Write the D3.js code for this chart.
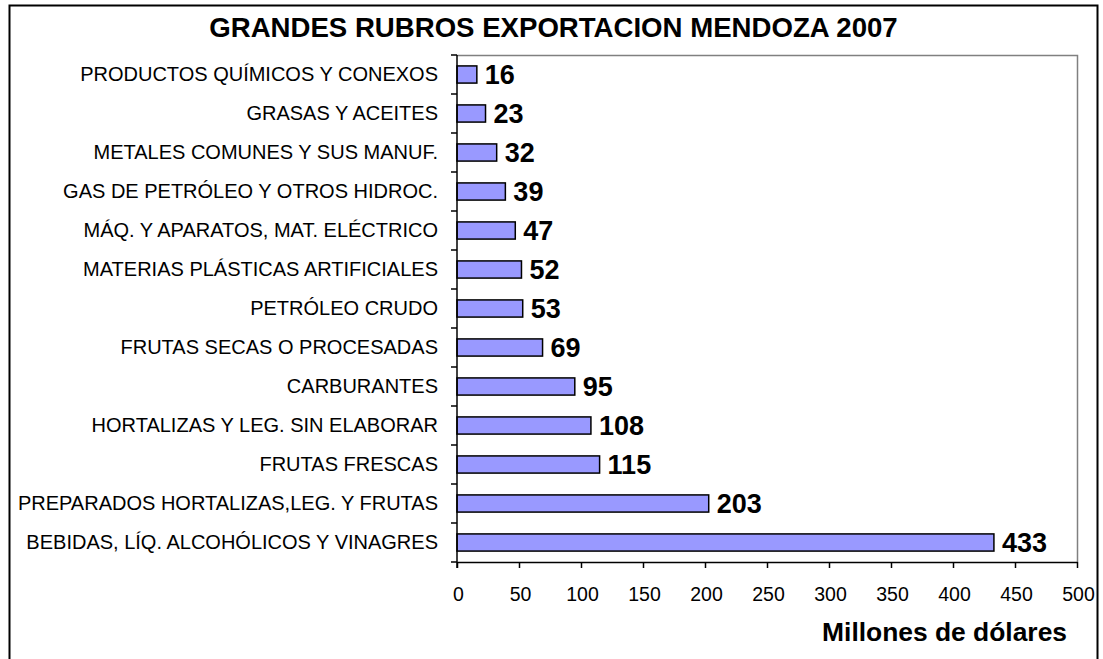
<!DOCTYPE html>
<html lang="es">
<head>
    <meta charset="UTF-8">
    <title>Grandes rubros exportacion Mendoza 2007</title>
    <script src="https://d3js.org/d3.v7.min.js"></script>
    <style>
        body { margin: 0; background: #fff; }
        svg { font-family: "Liberation Sans", Arial, sans-serif; }
        .cat { font-size: 20px; fill: #000; }
        .tick-label { font-size: 19.5px; fill: #000; }
        .value { font-size: 27px; font-weight: bold; fill: #000; }
        .title { font-size: 27.6px; font-weight: bold; fill: #000; }
        .axis-title { font-size: 26.4px; font-weight: bold; fill: #000; }
    </style>
</head>
<body>
<div id="chart"></div>
<script>
    // data, top to bottom as in the picture
    const categories = [
        "PRODUCTOS QUÍMICOS Y CONEXOS",
        "GRASAS Y ACEITES",
        "METALES COMUNES Y SUS MANUF.",
        "GAS DE PETRÓLEO Y OTROS HIDROC.",
        "MÁQ. Y APARATOS, MAT. ELÉCTRICO",
        "MATERIAS PLÁSTICAS ARTIFICIALES",
        "PETRÓLEO CRUDO",
        "FRUTAS SECAS O PROCESADAS",
        "CARBURANTES",
        "HORTALIZAS Y LEG. SIN ELABORAR",
        "FRUTAS FRESCAS",
        "PREPARADOS HORTALIZAS,LEG. Y FRUTAS",
        "BEBIDAS, LÍQ. ALCOHÓLICOS Y VINAGRES"
    ];
    const values = [16, 23, 32, 39, 47, 52, 53, 69, 95, 108, 115, 203, 433];
    const xTicks = [0, 50, 100, 150, 200, 250, 300, 350, 400, 450, 500];

    const width = 1103, height = 659;
    const plot = { left: 457, right: 1077, top: 55, bottom: 562 };

    const svg = d3.select("#chart").append("svg")
        .attr("width", width)
        .attr("height", height);

    // outer frame (bottom edge runs off the picture)
    svg.append("rect")
        .attr("x", 9.5).attr("y", 5.5)
        .attr("width", 1088).attr("height", 680)
        .attr("fill", "none")
        .attr("stroke", "#000")
        .attr("stroke-width", 2);

    svg.append("text")
        .attr("class", "title")
        .attr("x", 553.5).attr("y", 37)
        .attr("text-anchor", "middle")
        .text("GRANDES RUBROS EXPORTACION MENDOZA 2007");

    const x = d3.scaleLinear().domain([0, 500]).range([plot.left, plot.right]);
    const y = d3.scaleBand().domain(categories)
        .range([plot.top, plot.bottom])
        .paddingInner(0.56).paddingOuter(0.28);

    // plot area frame: grey top and right
    svg.append("path")
        .attr("d", `M${plot.left},${plot.top + 0.5}H${plot.right + 0.5}V${plot.bottom}`)
        .attr("fill", "none")
        .attr("stroke", "#808080")
        .attr("stroke-width", 1.5);

    // bars
    svg.append("g").selectAll("rect")
        .data(values)
        .join("rect")
        .attr("x", x(0))
        .attr("y", (d, i) => y(categories[i]))
        .attr("width", d => x(d) - x(0))
        .attr("height", y.bandwidth())
        .attr("fill", "#9999ff")
        .attr("stroke", "#000")
        .attr("stroke-width", 1.5);

    // value labels
    svg.append("g").selectAll("text")
        .data(values)
        .join("text")
        .attr("class", "value")
        .attr("x", d => x(d) + 8)
        .attr("y", (d, i) => y(categories[i]) + y.bandwidth() + 0.5)
        .text(d => d);

    // y axis: line plus ticks at band boundaries
    const step = y.step();
    const bounds = d3.range(categories.length + 1).map(i => plot.top + i * step);
    const yAxis = svg.append("g");
    yAxis.append("line")
        .attr("x1", plot.left).attr("x2", plot.left)
        .attr("y1", plot.top).attr("y2", plot.bottom + 6)
        .attr("stroke", "#000").attr("stroke-width", 1.5);
    yAxis.selectAll(".yt")
        .data(bounds)
        .join("line")
        .attr("class", "yt")
        .attr("x1", plot.left - 6).attr("x2", plot.left)
        .attr("y1", d => d).attr("y2", d => d)
        .attr("stroke", "#000").attr("stroke-width", 1.5);

    yAxis.selectAll(".cat")
        .data(categories)
        .join("text")
        .attr("class", "cat")
        .attr("x", 438)
        .attr("y", d => y(d) + y.bandwidth() / 2 + 6)
        .attr("text-anchor", "end")
        .text(d => d);

    // x axis
    const xAxis = svg.append("g")
        .attr("transform", `translate(0,${plot.bottom})`)
        .call(d3.axisBottom(x).tickValues(xTicks).tickSize(6).tickPadding(0).tickSizeOuter(0));
    xAxis.select(".domain").attr("stroke", "#000").attr("stroke-width", 1.5);
    xAxis.selectAll(".tick line").attr("stroke", "#000").attr("stroke-width", 1.5);
    xAxis.selectAll(".tick text")
        .attr("class", "tick-label")
        .attr("font-family", null)
        .attr("font-size", null)
        .attr("dy", null)
        .attr("y", 39)
        .attr("x", 1);

    svg.append("text")
        .attr("class", "axis-title")
        .attr("x", 1067).attr("y", 641)
        .attr("text-anchor", "end")
        .text("Millones de dólares");
</script>
</body>
</html>
